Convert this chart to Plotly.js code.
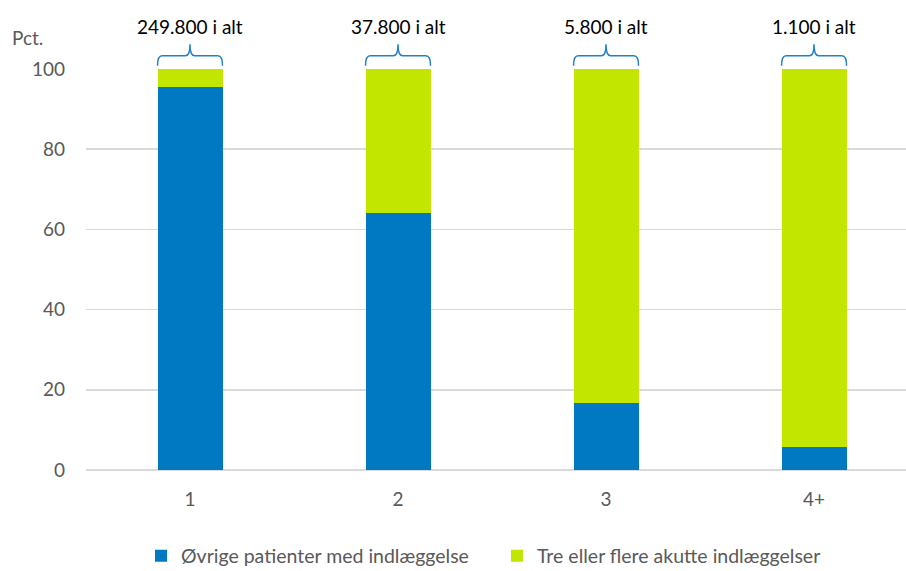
<!DOCTYPE html>
<html>
<head>
<meta charset="utf-8">
<script src="https://cdn.plot.ly/plotly-3.0.1.min.js"></script>
<style>
  html, body { margin: 0; padding: 0; background: #ffffff; }
  #chart { width: 906px; height: 571px; }
</style>
</head>
<body>
<div id="chart"></div>
<script>
// Number of acute admissions per patient (category axis)
const categories = ["1", "2", "3", "4+"];
// Share of patients, in percent
const otherPatients = [95.6, 64.2, 16.8, 5.8];
const threeOrMore = [4.4, 35.8, 83.2, 94.2];
// Total number of patients per group, shown above each bar
const totals = ["249.800 i alt", "37.800 i alt", "5.800 i alt", "1.100 i alt"];

const seriesNames = ["Øvrige patienter med indlæggelse", "Tre eller flere akutte indlæggelser"];
const BLUE = "#0079C2";
const GREEN = "#C2E600";
const FONT = "Lato, 'Open Sans', sans-serif";
const xIdx = categories.map((_, i) => i);
const BAR_W = 0.3125;

const traces = [
  { type: "bar", x: xIdx, y: otherPatients, name: seriesNames[0], width: BAR_W,
    marker: { color: BLUE }, hoverinfo: "y" },
  { type: "bar", x: xIdx, y: threeOrMore, name: seriesNames[1], width: BAR_W,
    marker: { color: GREEN }, hoverinfo: "y" }
];

// Curly brace above each bar (x in data units, y in paper units)
function brace(xc) {
  const l = xc - BAR_W / 2, r = xc + BAR_W / 2;
  const yb = 1.008, yh = 1.033, yt = 1.062;
  const d = 0.022;
  return "M " + l + "," + yb +
    " Q " + l + "," + yh + " " + (l + d) + "," + yh +
    " L " + (xc - d) + "," + yh +
    " Q " + xc + "," + yh + " " + xc + "," + yt +
    " Q " + xc + "," + yh + " " + (xc + d) + "," + yh +
    " L " + (r - d) + "," + yh +
    " Q " + r + "," + yh + " " + r + "," + yb;
}

const shapes = xIdx.map(i => ({
  type: "path", xref: "x", yref: "paper", path: brace(i),
  line: { color: "#1F82C9", width: 1.5 }
}));

const annotations = xIdx.map(i => ({
  x: i, y: 1.107, xref: "x", yref: "paper", text: totals[i], showarrow: false,
  xanchor: "center", yanchor: "middle", font: { family: FONT, size: 19, color: "#000000" }
}));
// Unit label above the y axis
annotations.push({
  x: (10 - 86) / 820, y: (470 - 37) / 401, xref: "paper", yref: "paper", text: "Pct.",
  showarrow: false, xanchor: "left", yanchor: "middle",
  font: { family: FONT, size: 19, color: "#595959" }
});

const layout = {
  width: 906, height: 571,
  margin: { l: 86, r: 0, t: 69, b: 101, pad: 0, autoexpand: false },
  paper_bgcolor: "#ffffff", plot_bgcolor: "#ffffff",
  barmode: "stack",
  font: { family: FONT, size: 19, color: "#595959" },
  showlegend: true,
  legend: {
    orientation: "h", x: (141 - 86) / 820, xanchor: "left", y: (470 - 556) / 401, yanchor: "middle",
    font: { family: FONT, size: 19.5, color: "#595959" }, traceorder: "normal",
    itemwidth: 30, entrywidth: 311, entrywidthmode: "pixels"
  },
  xaxis: {
    range: [-0.5, 3.442], tickmode: "array", tickvals: xIdx, ticktext: categories,
    showgrid: false, zeroline: false, showline: false, ticks: "", ticklen: 0,
    ticklabelstandoff: 16,
    tickfont: { family: FONT, size: 19, color: "#595959" }, fixedrange: true
  },
  yaxis: {
    range: [0, 100], tickvals: [0, 20, 40, 60, 80, 100], showgrid: true,
    gridcolor: "#D9D9D9", gridwidth: 1.5, zeroline: true, zerolinecolor: "#D9D9D9",
    zerolinewidth: 1.5, showline: false, ticks: "", ticklabelstandoff: 20,
    tickfont: { family: FONT, size: 19, color: "#595959" }, fixedrange: true
  },
  shapes: shapes,
  annotations: annotations
};

Plotly.newPlot("chart", traces, layout, { displayModeBar: false, staticPlot: true });
</script>
</body>
</html>
